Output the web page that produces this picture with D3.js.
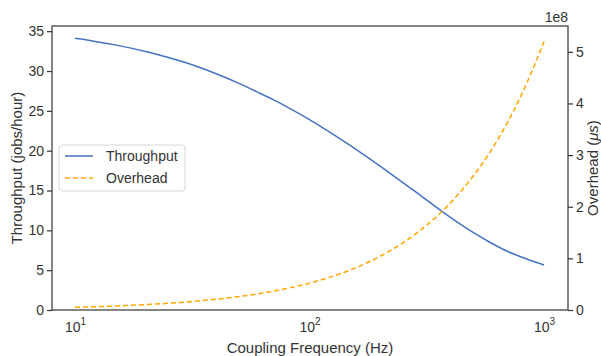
<!DOCTYPE html>
<html>
<head>
<meta charset="utf-8">
<script src="https://d3js.org/d3.v7.min.js"></script>
<style>
  body { margin: 0; background: #fff; }
  text { font-family: "Liberation Sans", Arial, sans-serif; fill: #333; }
</style>
</head>
<body>
<script>
// data
var freq = [10, 12, 15, 20, 25, 30, 40, 50, 60, 70, 80, 100, 120, 150, 200, 250, 300, 400, 500, 600, 700, 800, 1000];
var throughput = [34.1, 33.75, 33.25, 32.45, 31.7, 31.0, 29.65, 28.45, 27.35, 26.4, 25.5, 23.9, 22.45, 20.6, 18.05, 16.0, 14.3, 11.6, 9.7, 8.35, 7.35, 6.65, 5.65];
var overhead = [0.052e8, 0.062e8, 0.078e8, 0.104e8, 0.13e8, 0.156e8, 0.208e8, 0.26e8, 0.312e8, 0.364e8, 0.416e8, 0.52e8, 0.624e8, 0.78e8, 1.04e8, 1.3e8, 1.56e8, 2.08e8, 2.6e8, 3.12e8, 3.64e8, 4.16e8, 5.2e8];
var xTicks = [10, 100, 1000];
var leftTicks = [0, 5, 10, 15, 20, 25, 30, 35];
var rightTicks = [0, 1e8, 2e8, 3e8, 4e8, 5e8];

var W = 601, H = 356;
var margin = { top: 26, right: 33, bottom: 46, left: 52 },
    width = W - margin.left - margin.right,
    height = H - margin.top - margin.bottom;

var svg = d3.select("body").append("svg")
    .attr("width", W)
    .attr("height", H);
var g = svg.append("g")
    .attr("transform", "translate(" + margin.left + "," + margin.top + ")");

var x = d3.scaleLog()
    .domain([Math.pow(10, 0.902), Math.pow(10, 3.102)])
    .range([0, width]);
var yL = d3.scaleLinear().domain([0, 35.65]).range([height, 0]);
var yR = d3.scaleLinear().domain([0, 5.5e8]).range([height, 0]);

var axisColor = "#333";

// x axis (labels only, no tick marks)
var xa = g.append("g")
    .attr("transform", "translate(0," + height + ")")
    .call(d3.axisBottom(x).tickValues(xTicks).tickSize(0).tickPadding(10).tickFormat(""));
xa.select(".domain").remove();
xa.selectAll(".tick").each(function (d) {
    var t = d3.select(this).select("text")
        .attr("font-size", 14)
        .attr("y", 22)
        .attr("dy", 0)
        .attr("text-anchor", "middle");
    t.append("tspan").text("10");
    t.append("tspan").attr("font-size", 10).attr("dy", -7).text(Math.round(Math.log10(d)));
});

// left axis
var la = g.append("g")
    .call(d3.axisLeft(yL).tickValues(leftTicks).tickSize(5).tickPadding(3));
la.select(".domain").remove();
la.selectAll("line").attr("stroke", axisColor).attr("stroke-width", 1.2);
la.selectAll("text").attr("font-size", 14).style("font-family", "Liberation Sans, Arial, sans-serif");

// right axis
var ra = g.append("g")
    .attr("transform", "translate(" + width + ",0)")
    .call(d3.axisRight(yR).tickValues(rightTicks).tickSize(5).tickPadding(3)
        .tickFormat(function (d) { return d / 1e8; }));
ra.select(".domain").remove();
ra.selectAll("line").attr("stroke", axisColor).attr("stroke-width", 1.2);
ra.selectAll("text").attr("font-size", 14).style("font-family", "Liberation Sans, Arial, sans-serif");

// frame
g.append("rect")
    .attr("width", width)
    .attr("height", height)
    .attr("fill", "none")
    .attr("stroke", axisColor)
    .attr("stroke-width", 1.2);

// lines
var lineL = d3.line()
    .x(function (d, i) { return x(freq[i]); })
    .y(function (d) { return yL(d); })
    .curve(d3.curveMonotoneX);
var lineR = d3.line()
    .x(function (d, i) { return x(freq[i]); })
    .y(function (d) { return yR(d); })
    .curve(d3.curveMonotoneX);

g.append("path")
    .datum(throughput)
    .attr("d", lineL)
    .attr("fill", "none")
    .attr("stroke", "#4472c4")
    .attr("stroke-width", 1.5);

g.append("path")
    .datum(overhead)
    .attr("d", lineR)
    .attr("fill", "none")
    .attr("stroke", "#ffa500")
    .attr("stroke-width", 1.5)
    .attr("stroke-dasharray", "5,3");

// axis titles
svg.append("text")
    .attr("transform", "translate(22," + (margin.top + height / 2) + ") rotate(-90)")
    .attr("text-anchor", "middle")
    .attr("font-size", 15)
    .text("Throughput (jobs/hour)");

var rt = svg.append("text")
    .attr("transform", "translate(598," + (margin.top + height / 2) + ") rotate(-90)")
    .attr("text-anchor", "middle")
    .attr("font-size", 15);
rt.append("tspan").text("Overhead (");
rt.append("tspan").attr("font-style", "italic").text("\u03bcs");
rt.append("tspan").text(")");

svg.append("text")
    .attr("x", margin.left + width / 2)
    .attr("y", 353)
    .attr("text-anchor", "middle")
    .attr("font-size", 15)
    .text("Coupling Frequency (Hz)");

svg.append("text")
    .attr("x", margin.left + width)
    .attr("y", 22)
    .attr("text-anchor", "end")
    .attr("font-size", 14)
    .text("1e8");

// legend
var lg = svg.append("g").attr("transform", "translate(59,145)");
lg.append("rect")
    .attr("width", 126)
    .attr("height", 46)
    .attr("rx", 3)
    .attr("fill", "#fff")
    .attr("fill-opacity", 0.8)
    .attr("stroke", "#d6d6d6");
var items = [
    { name: "Throughput", color: "#4472c4", dash: null },
    { name: "Overhead", color: "#ffa500", dash: "5,3" }
];
items.forEach(function (d, i) {
    var yy = 11 + i * 22;
    lg.append("line")
        .attr("x1", 6).attr("x2", 34)
        .attr("y1", yy).attr("y2", yy)
        .attr("stroke", d.color)
        .attr("stroke-width", 1.5)
        .attr("stroke-dasharray", d.dash);
    lg.append("text")
        .attr("x", 47)
        .attr("y", yy + 5)
        .attr("font-size", 14)
        .text(d.name);
});
</script>
</body>
</html>
